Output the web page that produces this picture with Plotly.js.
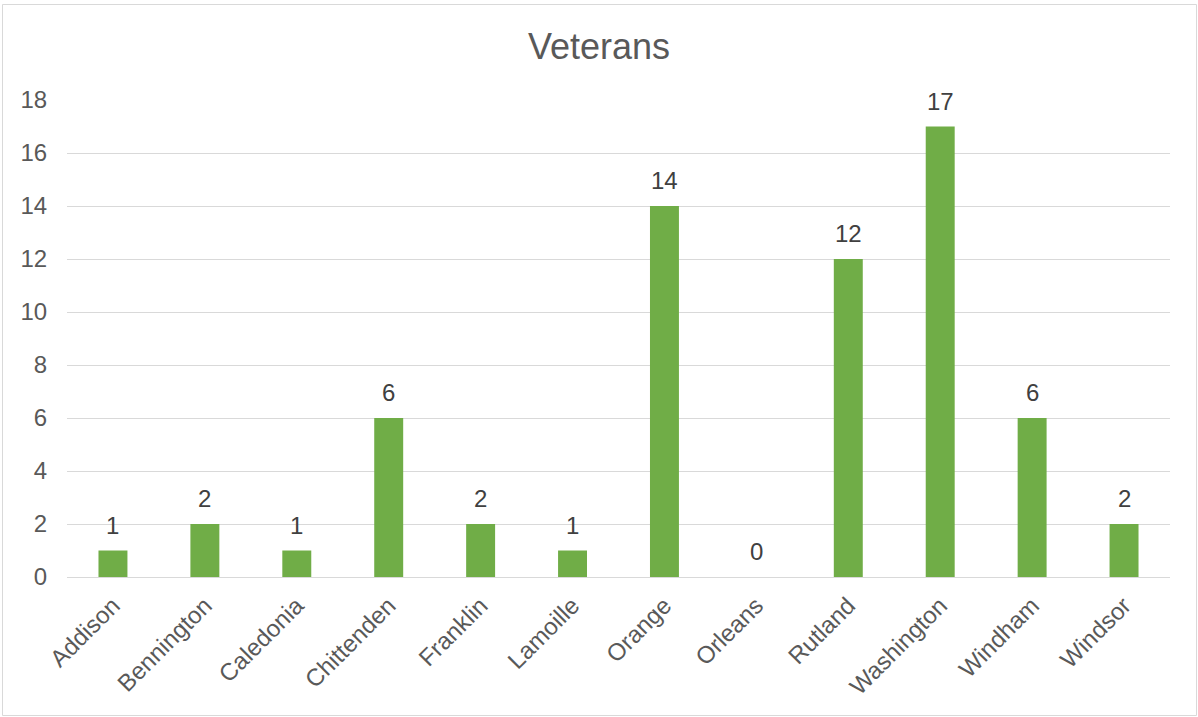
<!DOCTYPE html>
<html>
<head>
<meta charset="utf-8">
<script src="https://cdn.plot.ly/plotly-3.0.1.min.js"></script>
<style>
html,body{margin:0;padding:0;background:#fff;}
#chart{width:1198px;height:717px;}
</style>
</head>
<body>
<div id="chart"></div>
<script>
const categories = ["Addison","Bennington","Caledonia","Chittenden","Franklin","Lamoille","Orange","Orleans","Rutland","Washington","Windham","Windsor"];
const veterans = [1,2,1,6,2,1,14,0,12,17,6,2];
const yTicks = [0,2,4,6,8,10,12,14,16,18];

const W = 1198, H = 717;
const M = {l:67, r:28, t:100, b:140};
const pw = W - M.l - M.r, ph = H - M.t - M.b;
const px = v => (v - M.l) / pw;
const py = v => (H - M.b - v) / ph;

const font = "Liberation Sans, Arial, sans-serif";

const trace = {
  type: 'bar',
  x: categories,
  y: veterans,
  marker: {color: '#70AD47'},
  hoverinfo: 'x+y'
};

const annotations = categories.map((c, i) => ({
  x: c, y: veterans[i], xref: 'x', yref: 'y',
  text: String(veterans[i]),
  showarrow: false, yanchor: 'bottom', yshift: 10,
  font: {family: font, size: 24, color: '#404040'}
}));

const layout = {
  width: W, height: H,
  margin: M,
  paper_bgcolor: '#fff', plot_bgcolor: '#fff',
  showlegend: false,
  bargap: 0.685,
  title: {text: 'Veterans', x: 0.5, xref: 'container', xanchor: 'center', y: 1 - 46/H, yanchor: 'middle',
          font: {family: font, size: 36, color: '#595959'}},
  xaxis: {
    type: 'category', tickangle: -45,
    tickfont: {family: font, size: 24, color: '#595959'},
    showgrid: false, zeroline: false, showline: true, linecolor: '#d9d9d9', linewidth: 1,
    ticks: 'outside', ticklen: 4, tickcolor: 'rgba(0,0,0,0)'
  },
  yaxis: {
    range: [0, 18], tickvals: yTicks, ticktext: yTicks.map(String),
    tickfont: {family: font, size: 24, color: '#595959'},
    showgrid: true, gridcolor: '#d9d9d9', gridwidth: 1,
    zeroline: false, showline: false,
    ticks: 'outside', ticklen: 14, tickcolor: 'rgba(0,0,0,0)'
  },
  annotations: annotations,
  shapes: [{
    type: 'rect', xref: 'paper', yref: 'paper',
    x0: px(2.5), x1: px(W - 1.5), y0: py(H - 1.5), y1: py(4.5),
    line: {color: '#d9d9d9', width: 1}, fillcolor: 'rgba(0,0,0,0)', layer: 'below'
  }]
};

Plotly.newPlot('chart', [trace], layout, {displayModeBar: false, staticPlot: true});
</script>
</body>
</html>
